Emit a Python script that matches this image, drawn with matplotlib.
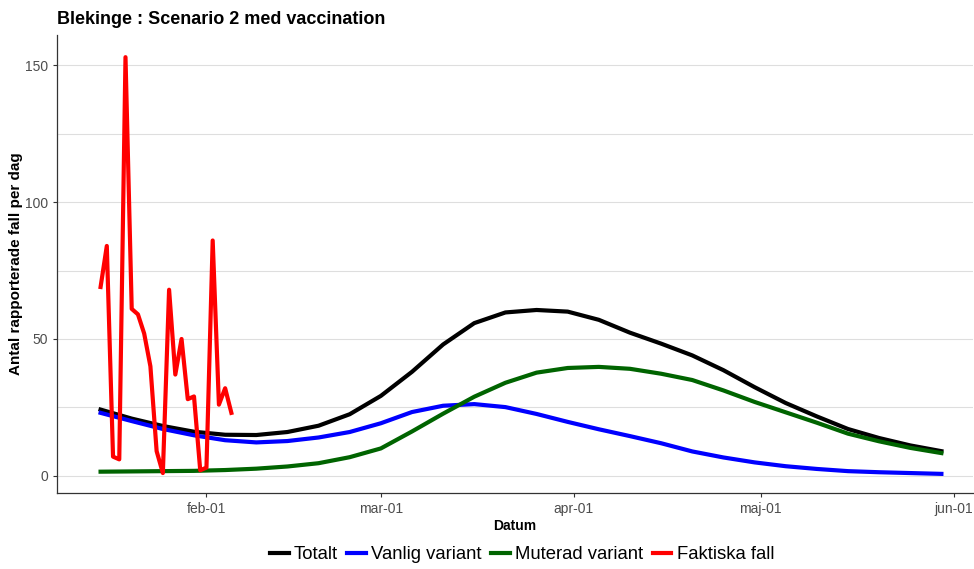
import pandas as pd
import matplotlib.pyplot as plt

plt.rcParams['font.family'] = ['Liberation Sans', 'DejaVu Sans']

# model curves, every 5 days from 2021-01-15
model_dates = pd.date_range('2021-01-15', periods=28, freq='5D')
totalt = [24.2, 20.9, 18.2, 16.1, 15.0, 14.9, 16.0, 18.3, 22.5, 29.2, 38.0, 48.0, 55.8, 59.7,
          60.6, 60.0, 57.0, 52.3, 48.3, 44.0, 38.6, 32.4, 26.6, 21.7, 17.1, 13.8, 11.1, 9.0]
vanlig = [23.0, 20.0, 17.1, 14.8, 13.0, 12.2, 12.7, 14.0, 16.0, 19.2, 23.3, 25.6, 26.2, 25.1,
          22.6, 19.7, 17.0, 14.5, 11.9, 8.9, 6.7, 4.9, 3.5, 2.5, 1.7, 1.3, 1.0, 0.7]
muterad = [1.5, 1.6, 1.7, 1.8, 2.1, 2.6, 3.4, 4.6, 6.8, 10.0, 16.2, 22.7, 28.9, 34.0,
           37.7, 39.4, 39.8, 39.1, 37.3, 35.0, 31.2, 27.0, 23.2, 19.4, 15.4, 12.6, 10.2, 8.3]

# reported cases per day
fall_dates = pd.date_range('2021-01-15', '2021-02-05')
faktiska = [69, 84, 7, 6, 153, 61, 59, 52, 40, 9, 1, 68, 37, 50, 28, 29, 2, 3, 86, 26, 32, 23]

tick_dates = pd.to_datetime(['2021-02-01', '2021-03-01', '2021-04-01', '2021-05-01', '2021-06-01'])
tick_labels = ['feb-01', 'mar-01', 'apr-01', 'maj-01', 'jun-01']

fig = plt.figure(figsize=(9.74, 5.69), dpi=100)
ax = fig.add_axes([0.0585, 0.134, 0.94, 0.804])

lw = 3.0
ax.plot(model_dates, totalt, color='black', lw=lw, label='Totalt', solid_joinstyle='round')
ax.plot(model_dates, vanlig, color='#0000ff', lw=lw, label='Vanlig variant', solid_joinstyle='round')
ax.plot(model_dates, muterad, color='#006400', lw=lw, label='Muterad variant', solid_joinstyle='round')
ax.plot(fall_dates, faktiska, color='#ff0000', lw=lw, label='Faktiska fall')

ax.set_ylim(-6.2, 161)
ax.set_xlim(pd.Timestamp('2021-01-08'), pd.Timestamp('2021-06-04'))
ax.set_yticks([0, 50, 100, 150])
ax.set_yticks([25, 75, 125], minor=True)
ax.set_xticks(tick_dates)
ax.set_xticklabels(tick_labels)
ax.tick_params(axis='both', colors='#333333', labelcolor='#4d4d4d', labelsize=10, length=3)
ax.tick_params(axis='y', which='minor', length=0)
ax.grid(axis='y', which='both', color='#dedede', lw=0.8)
ax.set_axisbelow(True)
for s in ['top', 'right']:
    ax.spines[s].set_visible(False)
for s in ['left', 'bottom']:
    ax.spines[s].set_color('#333333')
    ax.spines[s].set_linewidth(0.9)

ax.set_xlabel('Datum', fontsize=10, fontweight='bold', labelpad=2)
ax.set_ylabel('Antal rapporterade fall per dag', fontsize=11, fontweight='bold', labelpad=1)
fig.text(0.0585, 0.965, 'Blekinge : Scenario 2 med vaccination', fontsize=13,
         fontweight='bold', va='center', ha='left')

ax.legend(loc='center', bbox_to_anchor=(0.508, -0.135), ncol=4, frameon=False,
          fontsize=13.3, handlelength=1.0, handletextpad=0.3, columnspacing=0.5)

fig.savefig('out.png', dpi=100)
